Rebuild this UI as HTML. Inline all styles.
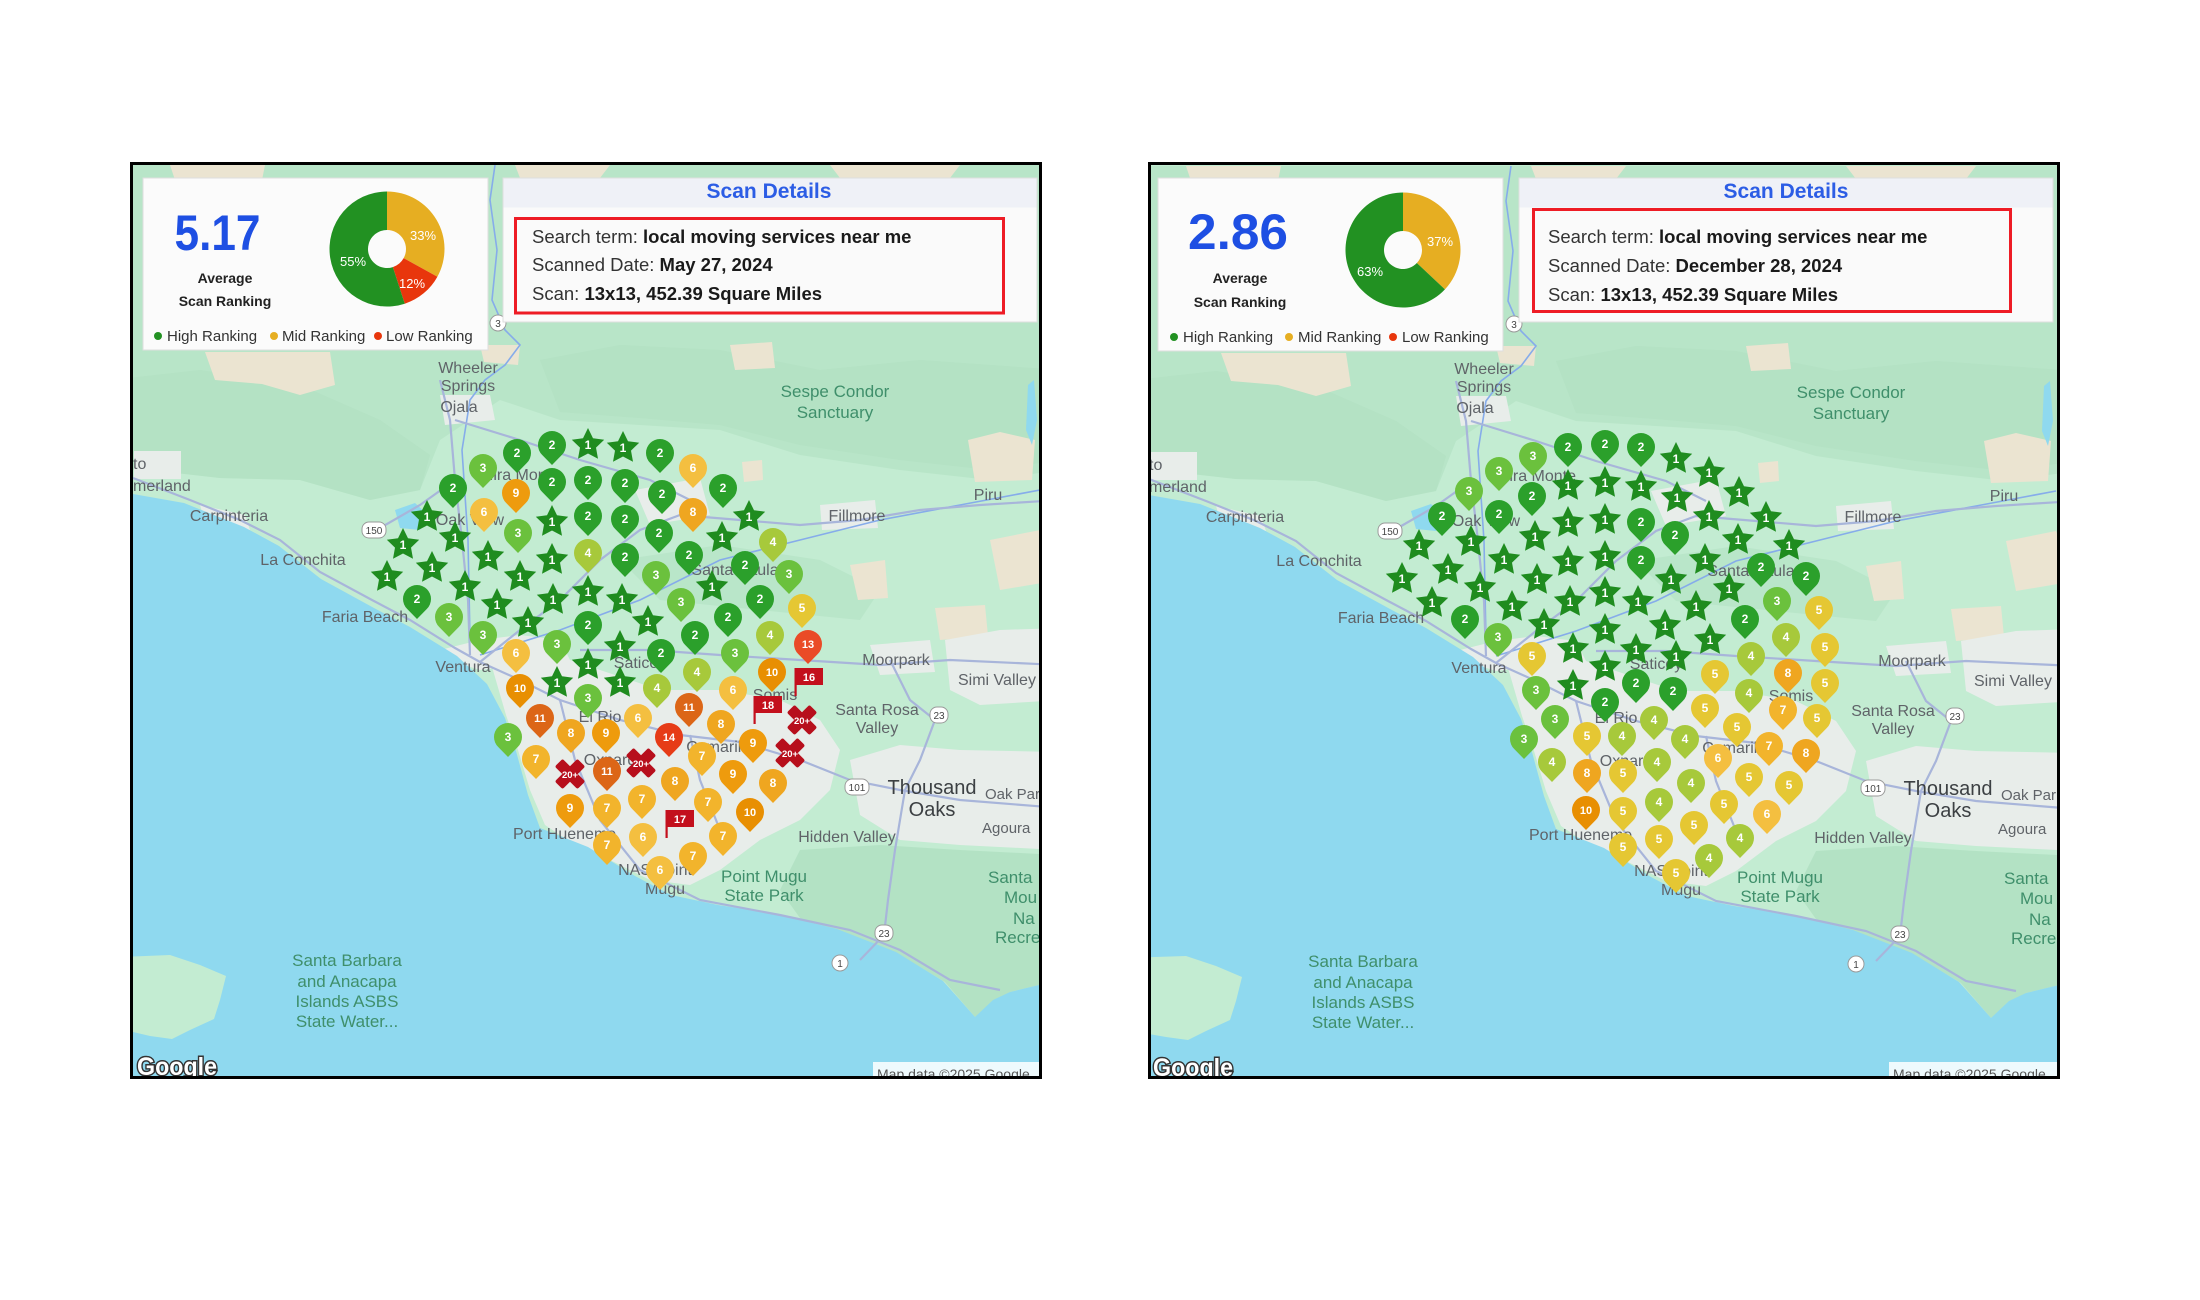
<!DOCTYPE html>
<html><head><meta charset="utf-8"><style>
html,body{margin:0;padding:0;background:#fff}
svg{display:block}
text{font-family:"Liberation Sans",Arial,sans-serif}
.lb{font-size:16px;fill:#5f6368;text-anchor:middle}
.ls{text-anchor:start}
.gn{fill:#3f8f6b}
.t{font-size:12px;font-weight:bold;fill:#fff;text-anchor:middle}
.t2{font-size:11px}
.tx{font-size:9.5px}
.k1{fill:#1f8c1f}.k2{fill:#2ba02b}.k3{fill:#6bc13d}.k4{fill:#a7c93b}.k5{fill:#e5c733}.k6{fill:#f4bf40}.k7{fill:#f2b42c}.k8{fill:#efa620}.k9{fill:#ee9b0d}.k10{fill:#e88f02}.k11{fill:#dc6617}.k13{fill:#ea4b27}.k14{fill:#e63c17}.kf{fill:#c3101d}.kx{fill:#b70f1c}
.rd{fill:none;stroke:#a8b5da;stroke-width:2.2}
.rv{fill:none;stroke:#86acea;stroke-width:1.6}
.ur{fill:#e8edea}
.hl{fill:#afe0c0}
.be{fill:#ebe4d1}
.sh{fill:#fff;stroke:#9a9a9a;stroke-width:1}
.st{font-size:10px;fill:#444;text-anchor:middle}
.ln{font-size:18.5px;fill:#333}
.lnb{font-weight:bold;fill:#1a1a1a}
.lg{font-size:15px;fill:#333}
.avg{font-size:14px;font-weight:bold;fill:#222;text-anchor:middle}
.pc{font-size:13px;fill:#fff;text-anchor:middle}
</style></head><body>
<svg width="2200" height="1300" viewBox="0 0 2200 1300" xmlns="http://www.w3.org/2000/svg">
<defs>
<path id="p" d="M-9.9,9.9A14,14 0 1 1 9.9,9.9L0,20Z"/>
<path id="s" d="M0,-17L5,-6.8L16.2,-5.3L8,2.6L10,13.8L0,8.5L-10,13.8L-8,2.6L-16.2,-5.3L-5,-6.8Z"/>
<g id="f"><rect x="-13.5" y="-9" width="2.2" height="28"/><rect x="-13" y="-9" width="28" height="17"/></g>
<g id="x"><rect x="-16" y="-5.5" width="32" height="11" rx="2" transform="rotate(45)"/><rect x="-16" y="-5.5" width="32" height="11" rx="2" transform="rotate(-45)"/></g>
<clipPath id="cL"><rect x="133" y="165" width="906" height="911"/></clipPath>
<clipPath id="cR"><rect x="1151" y="165" width="906" height="911"/></clipPath>
</defs>

<!-- ================= LEFT MAP ================= -->
<g clip-path="url(#cL)">
<g>
<rect x="110" y="150" width="960" height="950" fill="#c3ecd2"/>
<path class="hl" d="M110,165 L1060,165 L1060,470 L990,480 L900,470 L800,455 L720,430 L640,425 L560,420 L500,400 L440,440 L420,490 L370,500 L300,480 L220,478 L150,470 L110,470Z" opacity=".55"/>
<path class="hl" d="M110,380 L200,370 L300,385 L380,420 L430,455 L420,490 L370,500 L300,480 L220,478 L150,470 L110,470Z" opacity=".5"/>
<path class="hl" d="M540,360 L620,345 L720,350 L820,370 L920,360 L1060,370 L1060,460 L990,470 L900,460 L800,445 L720,425 L640,418 L560,412Z" opacity=".5"/>
<path class="hl" d="M800,850 L880,845 L960,850 L1060,855 L1060,980 L1010,992 L975,1017 L945,982 L900,955 L850,935 L800,918 L780,890Z" opacity=".8"/>
<path class="hl" d="M620,560 L720,545 L820,560 L880,590 L860,620 L760,610 L660,600Z" opacity=".5"/>
<path class="be" d="M170,165 L265,165 L262,180 L175,180Z"/>
<path class="be" d="M515,165 L610,165 L600,178 L520,178Z"/>
<path class="be" d="M830,165 L960,165 L950,178 L840,178Z"/>
<path class="be" d="M205,352 L330,352 L335,385 L300,395 L262,384 L215,380Z"/>
<path class="be" d="M480,345 L520,345 L518,365 L484,362Z"/>
<path class="be" d="M730,345 L772,342 L775,368 L735,370Z"/>
<path class="be" d="M968,440 L1000,432 L1035,440 L1032,480 L975,482Z"/>
<path class="be" d="M742,462 L762,460 L763,480 L744,482Z"/>
<path class="be" d="M850,565 L885,560 L888,598 L858,600Z"/>
<path class="be" d="M935,608 L985,605 L988,636 L940,640Z"/>
<path class="be" d="M990,540 L1040,530 L1060,580 L1000,590Z"/>
<path class="ur" d="M490,660 L540,650 L600,670 L660,690 L720,690 L780,700 L820,720 L840,750 L830,790 L800,820 L760,840 L720,870 L690,885 L650,880 L610,860 L575,845 L545,825 L530,790 L518,750 L506,715Z"/>
<path class="ur" d="M440,650 L480,640 L520,635 L560,640 L570,660 L520,665 L480,670 L455,662Z"/>
<path class="ur" d="M850,760 L900,745 L960,750 L1060,752 L1060,850 L960,845 L900,840 L860,815Z"/>
<path class="ur" d="M945,640 L1000,630 L1060,628 L1060,700 L980,705 L950,690Z"/>
<path class="ur" d="M870,645 L930,640 L935,672 L880,675Z"/>
<path class="ur" d="M635,490 L700,478 L710,515 L650,525Z"/>
<path class="ur" d="M820,505 L875,500 L878,528 L822,530Z"/>
<path class="ur" d="M440,395 L490,395 L495,420 L445,425Z"/>
<path class="ur" d="M134,451 L181,451 L181,479 L134,479Z"/>
<path class="ur" d="M200,505 L245,515 L250,530 L205,522Z"/>
<path d="M120,494 L133,494 L184,503 L244,527 L279,546 L321,579 L374,608 L410,627 L457,656 L487,684 L505,718 L516,751 L528,795 L540,828 L588,847 L635,876 L671,895 L718,905 L777,914 L837,929 L896,952 L943,981 L960,1000 L975,1017 L993,1000 L1010,992 L1060,980 L1060,1090 L120,1090Z" fill="#8fd9ef"/>
<path d="M120,957 L170,955 L200,965 L226,976 L220,1000 L214,1019 L190,1030 L172,1039 L150,1036 L120,1029Z" fill="#c3ecd2"/>
<path d="M395,510 L415,503 L428,515 L420,530 L400,528Z" fill="#8fd9ef"/>
<path d="M1028,385 L1034,380 L1037,420 L1032,445 L1026,430Z" fill="#8fd9ef"/>
<path class="rv" d="M495,165 L490,200 L497,250 L492,300 L505,330 L520,345 L505,365 L485,380 L470,400 L462,450 L468,540 L470,640"/>
<path class="rv" d="M480,655 L560,630 L640,600 L720,560 L800,540 L880,520 L960,505 L1040,490"/>
<path class="rd" d="M133,478 L190,500 L240,520 L280,540 L320,572 L372,600 L410,620 L455,648 L480,662 L520,680 L560,700 L620,720 L680,735 L740,742 L800,760 L850,780 L900,790 L960,800 L1060,808"/>
<path class="rd" d="M480,662 L520,630 L560,600 L600,560 L640,530 L680,515 L740,520 L800,525 L860,520 L920,510 L980,505 L1060,500"/>
<path class="rd" d="M470,655 L468,600 L462,540 L455,480 L450,420 L440,380"/>
<path class="rd" d="M380,528 L420,505 L455,480 M455,420 L520,440 L580,460 L650,480 L690,500"/>
<path class="rd" d="M580,650 L650,650 L720,655 L800,660 L880,665 L950,660 L1060,665"/>
<path class="rd" d="M560,700 L575,760 L600,820 L640,870 L700,900 L780,915 L850,930 L900,950 L950,980 L1000,990"/>
<path class="rd" d="M890,660 L910,700 L935,720 L920,760 L905,790 L895,850 L888,900 L884,935 L860,960"/>
<path class="rd" d="M690,735 L700,780 L720,830"/>
<g><rect class="sh" x="362" y="522" width="24" height="16" rx="7"/><text class="st" x="374" y="534">150</text>
<rect class="sh" x="930" y="707" width="18" height="16" rx="7"/><text class="st" x="939" y="719">23</text>
<rect class="sh" x="845" y="779" width="24" height="16" rx="7"/><text class="st" x="857" y="791">101</text>
<rect class="sh" x="875" y="925" width="18" height="16" rx="7"/><text class="st" x="884" y="937">23</text>
<rect class="sh" x="832" y="955" width="16" height="16" rx="8"/><text class="st" x="840" y="967">1</text>
<rect class="sh" x="490" y="315" width="16" height="16" rx="8"/><text class="st" x="498" y="327">3</text></g>
<g class="lb">
<text x="520" y="480">Mira Monte</text><text x="470" y="525">Oak View</text><text x="735" y="575">Santa Paula</text>
<text x="640" y="668">Saticoy</text><text x="600" y="722">El Rio</text><text x="775" y="700">Somis</text>
<text x="720" y="752">Camarillo</text><text x="610" y="765">Oxnard</text>
<text x="468" y="373">Wheeler</text><text x="468" y="391">Springs</text><text x="459" y="412">Ojala</text>
<text class="gn" x="835" y="397" font-size="17">Sespe Condor</text><text class="gn" x="835" y="418" font-size="17">Sanctuary</text>
<text class="ls" x="133" y="469">to</text><text class="ls" x="133" y="491">merland</text>
<text x="229" y="521">Carpinteria</text><text x="303" y="565">La Conchita</text><text x="365" y="622">Faria Beach</text>
<text x="463" y="672">Ventura</text><text x="988" y="500">Piru</text><text x="857" y="521">Fillmore</text>
<text x="896" y="665">Moorpark</text><text class="ls" x="958" y="685">Simi Valley</text>
<text x="877" y="715">Santa Rosa</text><text x="877" y="733">Valley</text>
<text x="932" y="794" font-size="20" fill="#3c4043">Thousand</text><text x="932" y="816" font-size="20" fill="#3c4043">Oaks</text>
<text class="ls" x="985" y="799" font-size="15">Oak Park</text><text class="ls" x="982" y="833" font-size="15">Agoura</text>
<text x="847" y="842">Hidden Valley</text><text class="ls" x="513" y="839">Port Hueneme</text>
<text x="655" y="875">NAS Point</text><text x="665" y="894">Mugu</text>
<text class="gn" x="764" y="882" font-size="17">Point Mugu</text><text class="gn" x="764" y="901" font-size="17">State Park</text>
<text class="gn ls" x="988" y="883" font-size="17">Santa</text><text class="gn ls" x="1004" y="903" font-size="17">Mou</text>
<text class="gn ls" x="1013" y="924" font-size="17">Na</text><text class="gn ls" x="995" y="943" font-size="17">Recre</text>
<text class="gn" x="347" y="966" font-size="17">Santa Barbara</text><text class="gn" x="347" y="987" font-size="17">and Anacapa</text>
<text class="gn" x="347" y="1007" font-size="17">Islands ASBS</text><text class="gn" x="347" y="1027" font-size="17">State Water...</text>
</g>
<text x="137" y="1075" font-size="25" font-weight="bold" fill="#fff" stroke="#333" stroke-width="3" paint-order="stroke" textLength="80" lengthAdjust="spacingAndGlyphs">Google</text>
<rect x="873" y="1062" width="190" height="16" fill="#fff" opacity=".85"/>
<text x="877" y="1079" font-size="14" fill="#555">Map data ©2025 Google</text>
</g>

<!-- left pins -->
<use href="#p" class="k2" x="517" y="453"/><text class="t" x="517" y="457">2</text>
<use href="#p" class="k2" x="552" y="445"/><text class="t" x="552" y="449">2</text>
<use href="#s" class="k1" x="588" y="445"/><text class="t" x="588" y="449">1</text>
<use href="#s" class="k1" x="623" y="448"/><text class="t" x="623" y="452">1</text>
<use href="#p" class="k2" x="660" y="453"/><text class="t" x="660" y="457">2</text>
<use href="#p" class="k3" x="483" y="468"/><text class="t" x="483" y="472">3</text>
<use href="#p" class="k6" x="693" y="468"/><text class="t" x="693" y="472">6</text>
<use href="#p" class="k2" x="453" y="488"/><text class="t" x="453" y="492">2</text>
<use href="#p" class="k9" x="516" y="493"/><text class="t" x="516" y="497">9</text>
<use href="#p" class="k2" x="552" y="482"/><text class="t" x="552" y="486">2</text>
<use href="#p" class="k2" x="588" y="480"/><text class="t" x="588" y="484">2</text>
<use href="#p" class="k2" x="625" y="483"/><text class="t" x="625" y="487">2</text>
<use href="#p" class="k2" x="662" y="494"/><text class="t" x="662" y="498">2</text>
<use href="#p" class="k2" x="723" y="488"/><text class="t" x="723" y="492">2</text>
<use href="#s" class="k1" x="427" y="517"/><text class="t" x="427" y="521">1</text>
<use href="#p" class="k6" x="484" y="512"/><text class="t" x="484" y="516">6</text>
<use href="#s" class="k1" x="552" y="522"/><text class="t" x="552" y="526">1</text>
<use href="#p" class="k2" x="588" y="516"/><text class="t" x="588" y="520">2</text>
<use href="#p" class="k2" x="625" y="519"/><text class="t" x="625" y="523">2</text>
<use href="#p" class="k8" x="693" y="512"/><text class="t" x="693" y="516">8</text>
<use href="#s" class="k1" x="749" y="517"/><text class="t" x="749" y="521">1</text>
<use href="#s" class="k1" x="403" y="545"/><text class="t" x="403" y="549">1</text>
<use href="#s" class="k1" x="455" y="538"/><text class="t" x="455" y="542">1</text>
<use href="#p" class="k3" x="518" y="533"/><text class="t" x="518" y="537">3</text>
<use href="#p" class="k2" x="659" y="533"/><text class="t" x="659" y="537">2</text>
<use href="#s" class="k1" x="722" y="538"/><text class="t" x="722" y="542">1</text>
<use href="#p" class="k4" x="773" y="542"/><text class="t" x="773" y="546">4</text>
<use href="#s" class="k1" x="488" y="557"/><text class="t" x="488" y="561">1</text>
<use href="#s" class="k1" x="552" y="560"/><text class="t" x="552" y="564">1</text>
<use href="#p" class="k4" x="588" y="553"/><text class="t" x="588" y="557">4</text>
<use href="#p" class="k2" x="625" y="557"/><text class="t" x="625" y="561">2</text>
<use href="#p" class="k2" x="689" y="555"/><text class="t" x="689" y="559">2</text>
<use href="#s" class="k1" x="387" y="577"/><text class="t" x="387" y="581">1</text>
<use href="#s" class="k1" x="432" y="568"/><text class="t" x="432" y="572">1</text>
<use href="#s" class="k1" x="520" y="577"/><text class="t" x="520" y="581">1</text>
<use href="#p" class="k3" x="656" y="575"/><text class="t" x="656" y="579">3</text>
<use href="#p" class="k2" x="745" y="565"/><text class="t" x="745" y="569">2</text>
<use href="#p" class="k3" x="789" y="574"/><text class="t" x="789" y="578">3</text>
<use href="#s" class="k1" x="712" y="587"/><text class="t" x="712" y="591">1</text>
<use href="#p" class="k2" x="417" y="599"/><text class="t" x="417" y="603">2</text>
<use href="#s" class="k1" x="465" y="587"/><text class="t" x="465" y="591">1</text>
<use href="#s" class="k1" x="553" y="600"/><text class="t" x="553" y="604">1</text>
<use href="#s" class="k1" x="588" y="592"/><text class="t" x="588" y="596">1</text>
<use href="#s" class="k1" x="622" y="600"/><text class="t" x="622" y="604">1</text>
<use href="#p" class="k3" x="681" y="602"/><text class="t" x="681" y="606">3</text>
<use href="#p" class="k2" x="760" y="599"/><text class="t" x="760" y="603">2</text>
<use href="#p" class="k3" x="449" y="617"/><text class="t" x="449" y="621">3</text>
<use href="#s" class="k1" x="497" y="605"/><text class="t" x="497" y="609">1</text>
<use href="#s" class="k1" x="528" y="623"/><text class="t" x="528" y="627">1</text>
<use href="#p" class="k2" x="588" y="625"/><text class="t" x="588" y="629">2</text>
<use href="#s" class="k1" x="648" y="622"/><text class="t" x="648" y="626">1</text>
<use href="#p" class="k2" x="728" y="617"/><text class="t" x="728" y="621">2</text>
<use href="#p" class="k5" x="802" y="608"/><text class="t" x="802" y="612">5</text>
<use href="#p" class="k3" x="483" y="635"/><text class="t" x="483" y="639">3</text>
<use href="#p" class="k3" x="557" y="644"/><text class="t" x="557" y="648">3</text>
<use href="#s" class="k1" x="620" y="647"/><text class="t" x="620" y="651">1</text>
<use href="#p" class="k2" x="695" y="635"/><text class="t" x="695" y="639">2</text>
<use href="#p" class="k4" x="770" y="635"/><text class="t" x="770" y="639">4</text>
<use href="#p" class="k13" x="808" y="644"/><text class="t t2" x="808" y="648">13</text>
<use href="#p" class="k6" x="516" y="653"/><text class="t" x="516" y="657">6</text>
<use href="#s" class="k1" x="588" y="665"/><text class="t" x="588" y="669">1</text>
<use href="#p" class="k2" x="661" y="653"/><text class="t" x="661" y="657">2</text>
<use href="#p" class="k3" x="735" y="653"/><text class="t" x="735" y="657">3</text>
<use href="#p" class="k4" x="697" y="672"/><text class="t" x="697" y="676">4</text>
<use href="#p" class="k10" x="772" y="672"/><text class="t t2" x="772" y="676">10</text>
<use href="#f" class="kf" x="808" y="677"/><text class="t t2" x="809" y="681">16</text>
<use href="#p" class="k10" x="520" y="688"/><text class="t t2" x="520" y="692">10</text>
<use href="#s" class="k1" x="557" y="683"/><text class="t" x="557" y="687">1</text>
<use href="#s" class="k1" x="620" y="683"/><text class="t" x="620" y="687">1</text>
<use href="#p" class="k3" x="588" y="698"/><text class="t" x="588" y="702">3</text>
<use href="#p" class="k4" x="657" y="688"/><text class="t" x="657" y="692">4</text>
<use href="#p" class="k6" x="733" y="690"/><text class="t" x="733" y="694">6</text>
<use href="#p" class="k11" x="540" y="718"/><text class="t t2" x="540" y="722">11</text>
<use href="#p" class="k6" x="638" y="718"/><text class="t" x="638" y="722">6</text>
<use href="#p" class="k11" x="689" y="707"/><text class="t t2" x="689" y="711">11</text>
<use href="#f" class="kf" x="767" y="705"/><text class="t t2" x="768" y="709">18</text>
<use href="#x" class="kx" x="802" y="720"/><text class="t tx" x="802" y="724">20+</text>
<use href="#p" class="k3" x="508" y="737"/><text class="t" x="508" y="741">3</text>
<use href="#p" class="k8" x="571" y="733"/><text class="t" x="571" y="737">8</text>
<use href="#p" class="k9" x="606" y="733"/><text class="t" x="606" y="737">9</text>
<use href="#p" class="k14" x="669" y="737"/><text class="t t2" x="669" y="741">14</text>
<use href="#p" class="k8" x="721" y="724"/><text class="t" x="721" y="728">8</text>
<use href="#p" class="k9" x="753" y="743"/><text class="t" x="753" y="747">9</text>
<use href="#x" class="kx" x="790" y="753"/><text class="t tx" x="790" y="757">20+</text>
<use href="#p" class="k7" x="536" y="759"/><text class="t" x="536" y="763">7</text>
<use href="#x" class="kx" x="570" y="774"/><text class="t tx" x="570" y="778">20+</text>
<use href="#p" class="k11" x="607" y="771"/><text class="t t2" x="607" y="775">11</text>
<use href="#x" class="kx" x="641" y="763"/><text class="t tx" x="641" y="767">20+</text>
<use href="#p" class="k7" x="702" y="756"/><text class="t" x="702" y="760">7</text>
<use href="#p" class="k8" x="675" y="781"/><text class="t" x="675" y="785">8</text>
<use href="#p" class="k9" x="733" y="774"/><text class="t" x="733" y="778">9</text>
<use href="#p" class="k8" x="773" y="783"/><text class="t" x="773" y="787">8</text>
<use href="#p" class="k9" x="570" y="808"/><text class="t" x="570" y="812">9</text>
<use href="#p" class="k7" x="607" y="808"/><text class="t" x="607" y="812">7</text>
<use href="#p" class="k7" x="642" y="799"/><text class="t" x="642" y="803">7</text>
<use href="#f" class="kf" x="679" y="819"/><text class="t t2" x="680" y="823">17</text>
<use href="#p" class="k7" x="708" y="802"/><text class="t" x="708" y="806">7</text>
<use href="#p" class="k10" x="750" y="812"/><text class="t t2" x="750" y="816">10</text>
<use href="#p" class="k7" x="607" y="845"/><text class="t" x="607" y="849">7</text>
<use href="#p" class="k6" x="643" y="837"/><text class="t" x="643" y="841">6</text>
<use href="#p" class="k7" x="723" y="836"/><text class="t" x="723" y="840">7</text>
<use href="#p" class="k7" x="693" y="856"/><text class="t" x="693" y="860">7</text>
<use href="#p" class="k6" x="660" y="870"/><text class="t" x="660" y="874">6</text>
</g>

<!-- left cards -->
<rect x="143" y="178" width="345" height="172" fill="#fbfbfb" stroke="#dedede" stroke-width="1"/>
<text x="217.5" y="250" font-size="50" font-weight="bold" fill="#1e4fe3" text-anchor="middle" textLength="86" lengthAdjust="spacingAndGlyphs">5.17</text>
<text class="avg" x="225" y="283">Average</text>
<text class="avg" x="225" y="306">Scan Ranking</text>
<path fill="#e6ae22" d="M387,191.5 A57.5,57.5 0 0 1 437.39,276.70 L403.65,258.15 A19,19 0 0 0 387,230 Z"/>
<path fill="#e8360c" d="M437.39,276.70 A57.5,57.5 0 0 1 404.77,303.69 L392.87,267.07 A19,19 0 0 0 403.65,258.15 Z"/>
<path fill="#229122" d="M404.77,303.69 A57.5,57.5 0 1 1 387,191.5 L387,230 A19,19 0 1 0 392.87,267.07 Z"/>
<text class="pc" x="423" y="240">33%</text>
<text class="pc" x="353" y="266">55%</text>
<text class="pc" x="412" y="288">12%</text>
<circle cx="158" cy="336" r="4" fill="#229122"/><text class="lg" x="167" y="341">High Ranking</text>
<circle cx="274" cy="336" r="4" fill="#e6ae22"/><text class="lg" x="282" y="341">Mid Ranking</text>
<circle cx="378" cy="336" r="4" fill="#e8360c"/><text class="lg" x="386" y="341">Low Ranking</text>

<rect x="503" y="178" width="534" height="144" fill="#fafafa" stroke="#dedede" stroke-width="1"/>
<rect x="503.5" y="178.5" width="533" height="29" fill="#eff1f7"/>
<text x="769" y="198" font-size="21" font-weight="bold" fill="#2c5de5" text-anchor="middle">Scan Details</text>
<rect x="515.5" y="218.5" width="488" height="94.5" fill="none" stroke="#ee1c25" stroke-width="3"/>
<text class="ln" x="532" y="243">Search term: <tspan class="lnb">local moving services near me</tspan></text>
<text class="ln" x="532" y="271">Scanned Date: <tspan class="lnb">May 27, 2024</tspan></text>
<text class="ln" x="532" y="300">Scan: <tspan class="lnb">13x13, 452.39 Square Miles</tspan></text>

<rect x="131.5" y="163.5" width="909" height="914" fill="none" stroke="#000" stroke-width="3"/>

<!-- ================= RIGHT MAP ================= -->
<g clip-path="url(#cR)">
<g transform="translate(1016,1)">
<rect x="110" y="150" width="960" height="950" fill="#c3ecd2"/>
<path class="hl" d="M110,165 L1060,165 L1060,470 L990,480 L900,470 L800,455 L720,430 L640,425 L560,420 L500,400 L440,440 L420,490 L370,500 L300,480 L220,478 L150,470 L110,470Z" opacity=".55"/>
<path class="hl" d="M110,380 L200,370 L300,385 L380,420 L430,455 L420,490 L370,500 L300,480 L220,478 L150,470 L110,470Z" opacity=".5"/>
<path class="hl" d="M540,360 L620,345 L720,350 L820,370 L920,360 L1060,370 L1060,460 L990,470 L900,460 L800,445 L720,425 L640,418 L560,412Z" opacity=".5"/>
<path class="hl" d="M800,850 L880,845 L960,850 L1060,855 L1060,980 L1010,992 L975,1017 L945,982 L900,955 L850,935 L800,918 L780,890Z" opacity=".8"/>
<path class="hl" d="M620,560 L720,545 L820,560 L880,590 L860,620 L760,610 L660,600Z" opacity=".5"/>
<path class="be" d="M170,165 L265,165 L262,180 L175,180Z"/>
<path class="be" d="M515,165 L610,165 L600,178 L520,178Z"/>
<path class="be" d="M830,165 L960,165 L950,178 L840,178Z"/>
<path class="be" d="M205,352 L330,352 L335,385 L300,395 L262,384 L215,380Z"/>
<path class="be" d="M480,345 L520,345 L518,365 L484,362Z"/>
<path class="be" d="M730,345 L772,342 L775,368 L735,370Z"/>
<path class="be" d="M968,440 L1000,432 L1035,440 L1032,480 L975,482Z"/>
<path class="be" d="M742,462 L762,460 L763,480 L744,482Z"/>
<path class="be" d="M850,565 L885,560 L888,598 L858,600Z"/>
<path class="be" d="M935,608 L985,605 L988,636 L940,640Z"/>
<path class="be" d="M990,540 L1040,530 L1060,580 L1000,590Z"/>
<path class="ur" d="M490,660 L540,650 L600,670 L660,690 L720,690 L780,700 L820,720 L840,750 L830,790 L800,820 L760,840 L720,870 L690,885 L650,880 L610,860 L575,845 L545,825 L530,790 L518,750 L506,715Z"/>
<path class="ur" d="M440,650 L480,640 L520,635 L560,640 L570,660 L520,665 L480,670 L455,662Z"/>
<path class="ur" d="M850,760 L900,745 L960,750 L1060,752 L1060,850 L960,845 L900,840 L860,815Z"/>
<path class="ur" d="M945,640 L1000,630 L1060,628 L1060,700 L980,705 L950,690Z"/>
<path class="ur" d="M870,645 L930,640 L935,672 L880,675Z"/>
<path class="ur" d="M635,490 L700,478 L710,515 L650,525Z"/>
<path class="ur" d="M820,505 L875,500 L878,528 L822,530Z"/>
<path class="ur" d="M440,395 L490,395 L495,420 L445,425Z"/>
<path class="ur" d="M134,451 L181,451 L181,479 L134,479Z"/>
<path class="ur" d="M200,505 L245,515 L250,530 L205,522Z"/>
<path d="M110,494 L133,494 L184,503 L244,527 L279,546 L321,579 L374,608 L410,627 L457,656 L487,684 L505,718 L516,751 L528,795 L540,828 L588,847 L635,876 L671,895 L718,905 L777,914 L837,929 L896,952 L943,981 L960,1000 L975,1017 L993,1000 L1010,992 L1060,980 L1060,1090 L110,1090Z" fill="#8fd9ef"/>
<path d="M110,957 L170,955 L200,965 L226,976 L220,1000 L214,1019 L190,1030 L172,1039 L150,1036 L110,1029Z" fill="#c3ecd2"/>
<path d="M395,510 L415,503 L428,515 L420,530 L400,528Z" fill="#8fd9ef"/>
<path d="M1028,385 L1034,380 L1037,420 L1032,445 L1026,430Z" fill="#8fd9ef"/>
<path class="rv" d="M495,165 L490,200 L497,250 L492,300 L505,330 L520,345 L505,365 L485,380 L470,400 L462,450 L468,540 L470,640"/>
<path class="rv" d="M480,655 L560,630 L640,600 L720,560 L800,540 L880,520 L960,505 L1040,490"/>
<path class="rd" d="M133,478 L190,500 L240,520 L280,540 L320,572 L372,600 L410,620 L455,648 L480,662 L520,680 L560,700 L620,720 L680,735 L740,742 L800,760 L850,780 L900,790 L960,800 L1060,808"/>
<path class="rd" d="M480,662 L520,630 L560,600 L600,560 L640,530 L680,515 L740,520 L800,525 L860,520 L920,510 L980,505 L1060,500"/>
<path class="rd" d="M470,655 L468,600 L462,540 L455,480 L450,420 L440,380"/>
<path class="rd" d="M380,528 L420,505 L455,480 M455,420 L520,440 L580,460 L650,480 L690,500"/>
<path class="rd" d="M580,650 L650,650 L720,655 L800,660 L880,665 L950,660 L1060,665"/>
<path class="rd" d="M560,700 L575,760 L600,820 L640,870 L700,900 L780,915 L850,930 L900,950 L950,980 L1000,990"/>
<path class="rd" d="M890,660 L910,700 L935,720 L920,760 L905,790 L895,850 L888,900 L884,935 L860,960"/>
<path class="rd" d="M690,735 L700,780 L720,830"/>
<g><rect class="sh" x="362" y="522" width="24" height="16" rx="7"/><text class="st" x="374" y="534">150</text>
<rect class="sh" x="930" y="707" width="18" height="16" rx="7"/><text class="st" x="939" y="719">23</text>
<rect class="sh" x="845" y="779" width="24" height="16" rx="7"/><text class="st" x="857" y="791">101</text>
<rect class="sh" x="875" y="925" width="18" height="16" rx="7"/><text class="st" x="884" y="937">23</text>
<rect class="sh" x="832" y="955" width="16" height="16" rx="8"/><text class="st" x="840" y="967">1</text>
<rect class="sh" x="490" y="315" width="16" height="16" rx="8"/><text class="st" x="498" y="327">3</text></g>
<g class="lb">
<text x="520" y="480">Mira Monte</text><text x="470" y="525">Oak View</text><text x="735" y="575">Santa Paula</text>
<text x="640" y="668">Saticoy</text><text x="600" y="722">El Rio</text><text x="775" y="700">Somis</text>
<text x="720" y="752">Camarillo</text><text x="610" y="765">Oxnard</text>
<text x="468" y="373">Wheeler</text><text x="468" y="391">Springs</text><text x="459" y="412">Ojala</text>
<text class="gn" x="835" y="397" font-size="17">Sespe Condor</text><text class="gn" x="835" y="418" font-size="17">Sanctuary</text>
<text class="ls" x="133" y="469">to</text><text class="ls" x="133" y="491">merland</text>
<text x="229" y="521">Carpinteria</text><text x="303" y="565">La Conchita</text><text x="365" y="622">Faria Beach</text>
<text x="463" y="672">Ventura</text><text x="988" y="500">Piru</text><text x="857" y="521">Fillmore</text>
<text x="896" y="665">Moorpark</text><text class="ls" x="958" y="685">Simi Valley</text>
<text x="877" y="715">Santa Rosa</text><text x="877" y="733">Valley</text>
<text x="932" y="794" font-size="20" fill="#3c4043">Thousand</text><text x="932" y="816" font-size="20" fill="#3c4043">Oaks</text>
<text class="ls" x="985" y="799" font-size="15">Oak Park</text><text class="ls" x="982" y="833" font-size="15">Agoura</text>
<text x="847" y="842">Hidden Valley</text><text class="ls" x="513" y="839">Port Hueneme</text>
<text x="655" y="875">NAS Point</text><text x="665" y="894">Mugu</text>
<text class="gn" x="764" y="882" font-size="17">Point Mugu</text><text class="gn" x="764" y="901" font-size="17">State Park</text>
<text class="gn ls" x="988" y="883" font-size="17">Santa</text><text class="gn ls" x="1004" y="903" font-size="17">Mou</text>
<text class="gn ls" x="1013" y="924" font-size="17">Na</text><text class="gn ls" x="995" y="943" font-size="17">Recre</text>
<text class="gn" x="347" y="966" font-size="17">Santa Barbara</text><text class="gn" x="347" y="987" font-size="17">and Anacapa</text>
<text class="gn" x="347" y="1007" font-size="17">Islands ASBS</text><text class="gn" x="347" y="1027" font-size="17">State Water...</text>
</g>
<text x="137" y="1075" font-size="25" font-weight="bold" fill="#fff" stroke="#333" stroke-width="3" paint-order="stroke" textLength="80" lengthAdjust="spacingAndGlyphs">Google</text>
<rect x="873" y="1061" width="190" height="16" fill="#fff" opacity=".85"/>
<text x="877" y="1078" font-size="14" fill="#555">Map data ©2025 Google</text>
</g>

<!-- right pins -->
<use href="#p" class="k3" x="1533" y="456"/><text class="t" x="1533" y="460">3</text>
<use href="#p" class="k2" x="1568" y="447"/><text class="t" x="1568" y="451">2</text>
<use href="#p" class="k2" x="1605" y="444"/><text class="t" x="1605" y="448">2</text>
<use href="#p" class="k2" x="1641" y="447"/><text class="t" x="1641" y="451">2</text>
<use href="#s" class="k1" x="1676" y="459"/><text class="t" x="1676" y="463">1</text>
<use href="#p" class="k3" x="1499" y="471"/><text class="t" x="1499" y="475">3</text>
<use href="#s" class="k1" x="1709" y="473"/><text class="t" x="1709" y="477">1</text>
<use href="#p" class="k3" x="1469" y="491"/><text class="t" x="1469" y="495">3</text>
<use href="#s" class="k1" x="1568" y="486"/><text class="t" x="1568" y="490">1</text>
<use href="#s" class="k1" x="1605" y="483"/><text class="t" x="1605" y="487">1</text>
<use href="#s" class="k1" x="1641" y="487"/><text class="t" x="1641" y="491">1</text>
<use href="#p" class="k2" x="1532" y="496"/><text class="t" x="1532" y="500">2</text>
<use href="#s" class="k1" x="1677" y="498"/><text class="t" x="1677" y="502">1</text>
<use href="#s" class="k1" x="1739" y="493"/><text class="t" x="1739" y="497">1</text>
<use href="#p" class="k2" x="1442" y="516"/><text class="t" x="1442" y="520">2</text>
<use href="#p" class="k2" x="1499" y="514"/><text class="t" x="1499" y="518">2</text>
<use href="#s" class="k1" x="1709" y="517"/><text class="t" x="1709" y="521">1</text>
<use href="#s" class="k1" x="1766" y="518"/><text class="t" x="1766" y="522">1</text>
<use href="#s" class="k1" x="1568" y="523"/><text class="t" x="1568" y="527">1</text>
<use href="#s" class="k1" x="1605" y="520"/><text class="t" x="1605" y="524">1</text>
<use href="#p" class="k2" x="1641" y="522"/><text class="t" x="1641" y="526">2</text>
<use href="#s" class="k1" x="1419" y="546"/><text class="t" x="1419" y="550">1</text>
<use href="#s" class="k1" x="1471" y="542"/><text class="t" x="1471" y="546">1</text>
<use href="#s" class="k1" x="1535" y="537"/><text class="t" x="1535" y="541">1</text>
<use href="#p" class="k2" x="1675" y="535"/><text class="t" x="1675" y="539">2</text>
<use href="#s" class="k1" x="1738" y="540"/><text class="t" x="1738" y="544">1</text>
<use href="#s" class="k1" x="1789" y="546"/><text class="t" x="1789" y="550">1</text>
<use href="#s" class="k1" x="1504" y="560"/><text class="t" x="1504" y="564">1</text>
<use href="#s" class="k1" x="1568" y="562"/><text class="t" x="1568" y="566">1</text>
<use href="#s" class="k1" x="1605" y="557"/><text class="t" x="1605" y="561">1</text>
<use href="#p" class="k2" x="1641" y="560"/><text class="t" x="1641" y="564">2</text>
<use href="#s" class="k1" x="1705" y="560"/><text class="t" x="1705" y="564">1</text>
<use href="#p" class="k2" x="1761" y="567"/><text class="t" x="1761" y="571">2</text>
<use href="#s" class="k1" x="1402" y="579"/><text class="t" x="1402" y="583">1</text>
<use href="#s" class="k1" x="1448" y="570"/><text class="t" x="1448" y="574">1</text>
<use href="#s" class="k1" x="1537" y="580"/><text class="t" x="1537" y="584">1</text>
<use href="#s" class="k1" x="1671" y="580"/><text class="t" x="1671" y="584">1</text>
<use href="#p" class="k2" x="1806" y="576"/><text class="t" x="1806" y="580">2</text>
<use href="#s" class="k1" x="1480" y="588"/><text class="t" x="1480" y="592">1</text>
<use href="#s" class="k1" x="1729" y="589"/><text class="t" x="1729" y="593">1</text>
<use href="#s" class="k1" x="1432" y="603"/><text class="t" x="1432" y="607">1</text>
<use href="#s" class="k1" x="1512" y="607"/><text class="t" x="1512" y="611">1</text>
<use href="#s" class="k1" x="1570" y="602"/><text class="t" x="1570" y="606">1</text>
<use href="#s" class="k1" x="1605" y="593"/><text class="t" x="1605" y="597">1</text>
<use href="#s" class="k1" x="1638" y="602"/><text class="t" x="1638" y="606">1</text>
<use href="#s" class="k1" x="1696" y="607"/><text class="t" x="1696" y="611">1</text>
<use href="#p" class="k3" x="1777" y="601"/><text class="t" x="1777" y="605">3</text>
<use href="#p" class="k5" x="1819" y="610"/><text class="t" x="1819" y="614">5</text>
<use href="#p" class="k2" x="1465" y="619"/><text class="t" x="1465" y="623">2</text>
<use href="#s" class="k1" x="1544" y="625"/><text class="t" x="1544" y="629">1</text>
<use href="#s" class="k1" x="1605" y="630"/><text class="t" x="1605" y="634">1</text>
<use href="#s" class="k1" x="1665" y="626"/><text class="t" x="1665" y="630">1</text>
<use href="#p" class="k2" x="1745" y="619"/><text class="t" x="1745" y="623">2</text>
<use href="#p" class="k3" x="1498" y="637"/><text class="t" x="1498" y="641">3</text>
<use href="#s" class="k1" x="1710" y="640"/><text class="t" x="1710" y="644">1</text>
<use href="#p" class="k4" x="1786" y="637"/><text class="t" x="1786" y="641">4</text>
<use href="#p" class="k5" x="1825" y="647"/><text class="t" x="1825" y="651">5</text>
<use href="#p" class="k5" x="1532" y="656"/><text class="t" x="1532" y="660">5</text>
<use href="#s" class="k1" x="1573" y="649"/><text class="t" x="1573" y="653">1</text>
<use href="#s" class="k1" x="1636" y="650"/><text class="t" x="1636" y="654">1</text>
<use href="#s" class="k1" x="1676" y="657"/><text class="t" x="1676" y="661">1</text>
<use href="#p" class="k4" x="1751" y="656"/><text class="t" x="1751" y="660">4</text>
<use href="#s" class="k1" x="1605" y="667"/><text class="t" x="1605" y="671">1</text>
<use href="#p" class="k5" x="1715" y="674"/><text class="t" x="1715" y="678">5</text>
<use href="#p" class="k8" x="1788" y="673"/><text class="t" x="1788" y="677">8</text>
<use href="#p" class="k3" x="1536" y="690"/><text class="t" x="1536" y="694">3</text>
<use href="#s" class="k1" x="1573" y="686"/><text class="t" x="1573" y="690">1</text>
<use href="#p" class="k2" x="1636" y="683"/><text class="t" x="1636" y="687">2</text>
<use href="#p" class="k2" x="1673" y="691"/><text class="t" x="1673" y="695">2</text>
<use href="#p" class="k4" x="1749" y="693"/><text class="t" x="1749" y="697">4</text>
<use href="#p" class="k5" x="1825" y="683"/><text class="t" x="1825" y="687">5</text>
<use href="#p" class="k2" x="1605" y="702"/><text class="t" x="1605" y="706">2</text>
<use href="#p" class="k5" x="1705" y="708"/><text class="t" x="1705" y="712">5</text>
<use href="#p" class="k7" x="1783" y="710"/><text class="t" x="1783" y="714">7</text>
<use href="#p" class="k3" x="1555" y="719"/><text class="t" x="1555" y="723">3</text>
<use href="#p" class="k4" x="1654" y="720"/><text class="t" x="1654" y="724">4</text>
<use href="#p" class="k5" x="1737" y="727"/><text class="t" x="1737" y="731">5</text>
<use href="#p" class="k5" x="1817" y="718"/><text class="t" x="1817" y="722">5</text>
<use href="#p" class="k3" x="1524" y="739"/><text class="t" x="1524" y="743">3</text>
<use href="#p" class="k5" x="1587" y="736"/><text class="t" x="1587" y="740">5</text>
<use href="#p" class="k4" x="1622" y="736"/><text class="t" x="1622" y="740">4</text>
<use href="#p" class="k4" x="1685" y="739"/><text class="t" x="1685" y="743">4</text>
<use href="#p" class="k7" x="1769" y="746"/><text class="t" x="1769" y="750">7</text>
<use href="#p" class="k4" x="1552" y="762"/><text class="t" x="1552" y="766">4</text>
<use href="#p" class="k6" x="1718" y="758"/><text class="t" x="1718" y="762">6</text>
<use href="#p" class="k8" x="1806" y="753"/><text class="t" x="1806" y="757">8</text>
<use href="#p" class="k8" x="1587" y="773"/><text class="t" x="1587" y="777">8</text>
<use href="#p" class="k5" x="1623" y="773"/><text class="t" x="1623" y="777">5</text>
<use href="#p" class="k4" x="1657" y="762"/><text class="t" x="1657" y="766">4</text>
<use href="#p" class="k4" x="1691" y="783"/><text class="t" x="1691" y="787">4</text>
<use href="#p" class="k5" x="1749" y="777"/><text class="t" x="1749" y="781">5</text>
<use href="#p" class="k5" x="1789" y="785"/><text class="t" x="1789" y="789">5</text>
<use href="#p" class="k10" x="1586" y="810"/><text class="t t2" x="1586" y="814">10</text>
<use href="#p" class="k5" x="1623" y="811"/><text class="t" x="1623" y="815">5</text>
<use href="#p" class="k4" x="1659" y="802"/><text class="t" x="1659" y="806">4</text>
<use href="#p" class="k5" x="1724" y="804"/><text class="t" x="1724" y="808">5</text>
<use href="#p" class="k6" x="1767" y="814"/><text class="t" x="1767" y="818">6</text>
<use href="#p" class="k5" x="1694" y="825"/><text class="t" x="1694" y="829">5</text>
<use href="#p" class="k5" x="1623" y="847"/><text class="t" x="1623" y="851">5</text>
<use href="#p" class="k5" x="1659" y="839"/><text class="t" x="1659" y="843">5</text>
<use href="#p" class="k4" x="1740" y="838"/><text class="t" x="1740" y="842">4</text>
<use href="#p" class="k4" x="1709" y="858"/><text class="t" x="1709" y="862">4</text>
<use href="#p" class="k5" x="1676" y="873"/><text class="t" x="1676" y="877">5</text>
</g>

<!-- right cards -->
<rect x="1158" y="178" width="345" height="173" fill="#fbfbfb" stroke="#dedede" stroke-width="1"/>
<text x="1238" y="249" font-size="50" font-weight="bold" fill="#1e4fe3" text-anchor="middle" textLength="100" lengthAdjust="spacingAndGlyphs">2.86</text>
<text class="avg" x="1240" y="283">Average</text>
<text class="avg" x="1240" y="307">Scan Ranking</text>
<path fill="#e6ae22" d="M1403,192.5 A57.5,57.5 0 0 1 1444.92,289.36 L1416.85,263.01 A19,19 0 0 0 1403,231 Z"/>
<path fill="#229122" d="M1444.92,289.36 A57.5,57.5 0 1 1 1403,192.5 L1403,231 A19,19 0 1 0 1416.85,263.01 Z"/>
<text class="pc" x="1440" y="246">37%</text>
<text class="pc" x="1370" y="276">63%</text>
<circle cx="1174" cy="337" r="4" fill="#229122"/><text class="lg" x="1183" y="342">High Ranking</text>
<circle cx="1289" cy="337" r="4" fill="#e6ae22"/><text class="lg" x="1298" y="342">Mid Ranking</text>
<circle cx="1393" cy="337" r="4" fill="#e8360c"/><text class="lg" x="1402" y="342">Low Ranking</text>

<rect x="1519" y="178" width="534" height="144" fill="#fafafa" stroke="#dedede" stroke-width="1"/>
<rect x="1519.5" y="178.5" width="533" height="29" fill="#eff1f7"/>
<text x="1786" y="198" font-size="21" font-weight="bold" fill="#2c5de5" text-anchor="middle">Scan Details</text>
<rect x="1533.5" y="209.5" width="477" height="102" fill="none" stroke="#ee1c25" stroke-width="3"/>
<text class="ln" x="1548" y="243">Search term: <tspan class="lnb">local moving services near me</tspan></text>
<text class="ln" x="1548" y="272">Scanned Date: <tspan class="lnb">December 28, 2024</tspan></text>
<text class="ln" x="1548" y="301">Scan: <tspan class="lnb">13x13, 452.39 Square Miles</tspan></text>

<rect x="1149.5" y="163.5" width="909" height="914" fill="none" stroke="#000" stroke-width="3"/>
</svg>
</body></html>
